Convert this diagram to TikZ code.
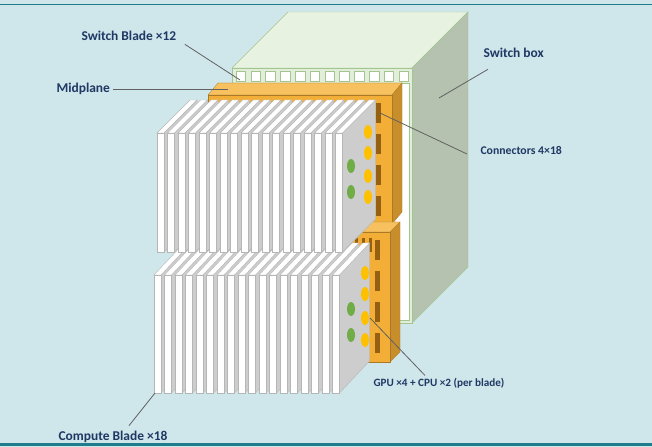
\documentclass[tikz,border=0pt]{standalone}
\usepackage{fontspec}
\setmainfont{Carlito}
\definecolor{bgblue}{RGB}{207,230,234}
\definecolor{frameteal}{RGB}{30,124,140}
\definecolor{navy}{RGB}{31,56,100}
\definecolor{boxtop}{RGB}{232,242,225}
\definecolor{boxfront}{RGB}{226,238,218}
\definecolor{boxside}{RGB}{181,194,175}
\definecolor{boxedge}{RGB}{163,198,145}
\definecolor{mptop}{RGB}{246,193,94}
\definecolor{mpfront}{RGB}{242,174,54}
\definecolor{mpside}{RGB}{200,142,44}
\definecolor{connbrown}{RGB}{150,96,18}
\definecolor{bladeside}{RGB}{205,205,205}
\definecolor{bladeedge}{RGB}{182,182,182}
\definecolor{gpuyellow}{RGB}{255,192,0}
\definecolor{cpugreen}{RGB}{112,173,71}
\begin{document}
\begin{tikzpicture}[x=1bp,y=-1bp,
	lbl/.style={text=navy,font=\fontsize{13.5}{16}\selectfont\bfseries,anchor=west},
	lblsmall/.style={text=navy,font=\fontsize{11.8}{14}\selectfont\bfseries,anchor=west},
	leader/.style={draw=black!62,line width=0.8pt},
	bladepart/.style={fill=white,draw=bladeedge,line width=0.4pt},
	bladeshade/.style={fill=bladeside,draw=bladeedge,line width=0.4pt},
	mppart/.style={draw=mpside!85!black,line width=0.3pt}]
		\useasboundingbox (0,0) rectangle (652,447);
		\fill[bgblue] (0,0) rectangle (652,447);
		\draw[frameteal,line width=1.5bp] (0,4.5)--(652,4.5);
		\draw[frameteal,line width=3bp] (0,444.5)--(652,444.5);
		\filldraw[fill=boxtop,draw=boxedge] (232,68)--(412,68)--(468,12)--(288,12)--cycle;
		\filldraw[fill=boxside,draw=boxedge] (412,68)--(468,12)--(468,267)--(412,323)--cycle;
		\filldraw[fill=boxfront,draw=boxedge] (232,68) rectangle (412,323);
		\filldraw[fill=white,draw=boxedge] (235,83) rectangle (409.5,320);
		\foreach \k in {0,...,11}
			\filldraw[fill=white,draw=boxedge] (236+14.8*\k,71.5) rectangle ++(9.5,10);
		\filldraw[fill=mptop,mppart] (208,95)--(392,95)--(402,83)--(218,83)--cycle;
		\filldraw[fill=mpside,mppart] (392,95)--(402,83)--(402,212)--(392,224)--cycle;
		\filldraw[fill=mpfront,mppart] (208,95) rectangle (392,224);
		\foreach \k in {0,...,3}
			\fill[connbrown] (376,103+31*\k) rectangle ++(5,20);
		\filldraw[fill=mptop,mppart] (300,232)--(390,232)--(400,222)--(310,222)--cycle;
		\filldraw[fill=mpside,mppart] (390,232)--(400,222)--(400,352)--(390,362)--cycle;
		\filldraw[fill=mpfront,mppart] (300,232) rectangle (390,362);
		\foreach \k in {0,...,3}
			\fill[connbrown] (375,240+31*\k) rectangle ++(5,20);
		\foreach \k in {0,1,2}
			\fill[connbrown] (355+7*\k,238) rectangle ++(3,14);
		\foreach \i in {0,...,17}{
			\pgfmathsetmacro\bx{154+10.5*\i}
			\filldraw[bladeshade] (\bx+7,275)--(\bx+37,243)--(\bx+37,361)--(\bx+7,393)--cycle;
			\filldraw[bladepart] (\bx,275)--(\bx+7,275)--(\bx+37,243)--(\bx+30,243)--cycle;
			\filldraw[bladepart] (\bx,275) rectangle (\bx+7,393);
		}
		\fill[cpugreen] (351,309) ellipse (4 and 7) (351,335) ellipse (4 and 7);
		\fill[gpuyellow] (365,273) ellipse (4 and 7) (365,294) ellipse (4 and 7) (365,318) ellipse (4 and 7) (365,340) ellipse (4 and 7);
		\foreach \i in {0,...,17}{
			\pgfmathsetmacro\bx{157+10.5*\i}
			\filldraw[bladeshade] (\bx+7,133)--(\bx+40,100)--(\bx+40,219)--(\bx+7,252)--cycle;
			\filldraw[bladepart] (\bx,133)--(\bx+7,133)--(\bx+40,100)--(\bx+33,100)--cycle;
			\filldraw[bladepart] (\bx,133) rectangle (\bx+7,252);
		}
		\fill[cpugreen] (351,166) ellipse (4 and 7) (351,192) ellipse (4 and 7);
		\fill[gpuyellow] (368,132) ellipse (4 and 7) (368,153) ellipse (4 and 7) (368,176) ellipse (4 and 7) (368,197) ellipse (4 and 7);
		\coordinate (sbTip) at (240,80);
		\coordinate (mpTip) at (228,89);
		\coordinate (boxTip) at (439,98);
		\coordinate (connTip) at (380,113);
		\coordinate (chipTip) at (370,318);
		\coordinate (cbTip) at (155,393);
		\node[lbl] (sbl) at (78,36) {Switch Blade ×12};
		\node[lbl] (mpl) at (53,89) {Midplane};
		\node[lbl] (sbx) at (480,53) {Switch box};
		\node[lblsmall] (cnl) at (477,150) {Connectors 4×18};
		\node[lblsmall,font=\fontsize{11.2}{14}\selectfont\bfseries] (gpl) at (370,383) {GPU ×4 + CPU ×2 (per blade)};
		\node[lbl] (cbl) at (55,437) {Compute Blade ×18};
		\draw[leader] ([shift={(5,0)}]sbl.south east)--(sbTip);
		\draw[leader] (mpl.east)--(mpTip);
		\draw[leader] ([shift={(8,8)}]sbx.south west)--(boxTip);
		\draw[leader] ([shift={(-10,4)}]cnl.west)--(connTip);
		\draw[leader] ([shift={(-14,1)}]gpl.north)--(chipTip);
		\draw[leader] ([shift={(16,-2)}]cbl.north)--(cbTip);
		\end{tikzpicture}
\end{document}
